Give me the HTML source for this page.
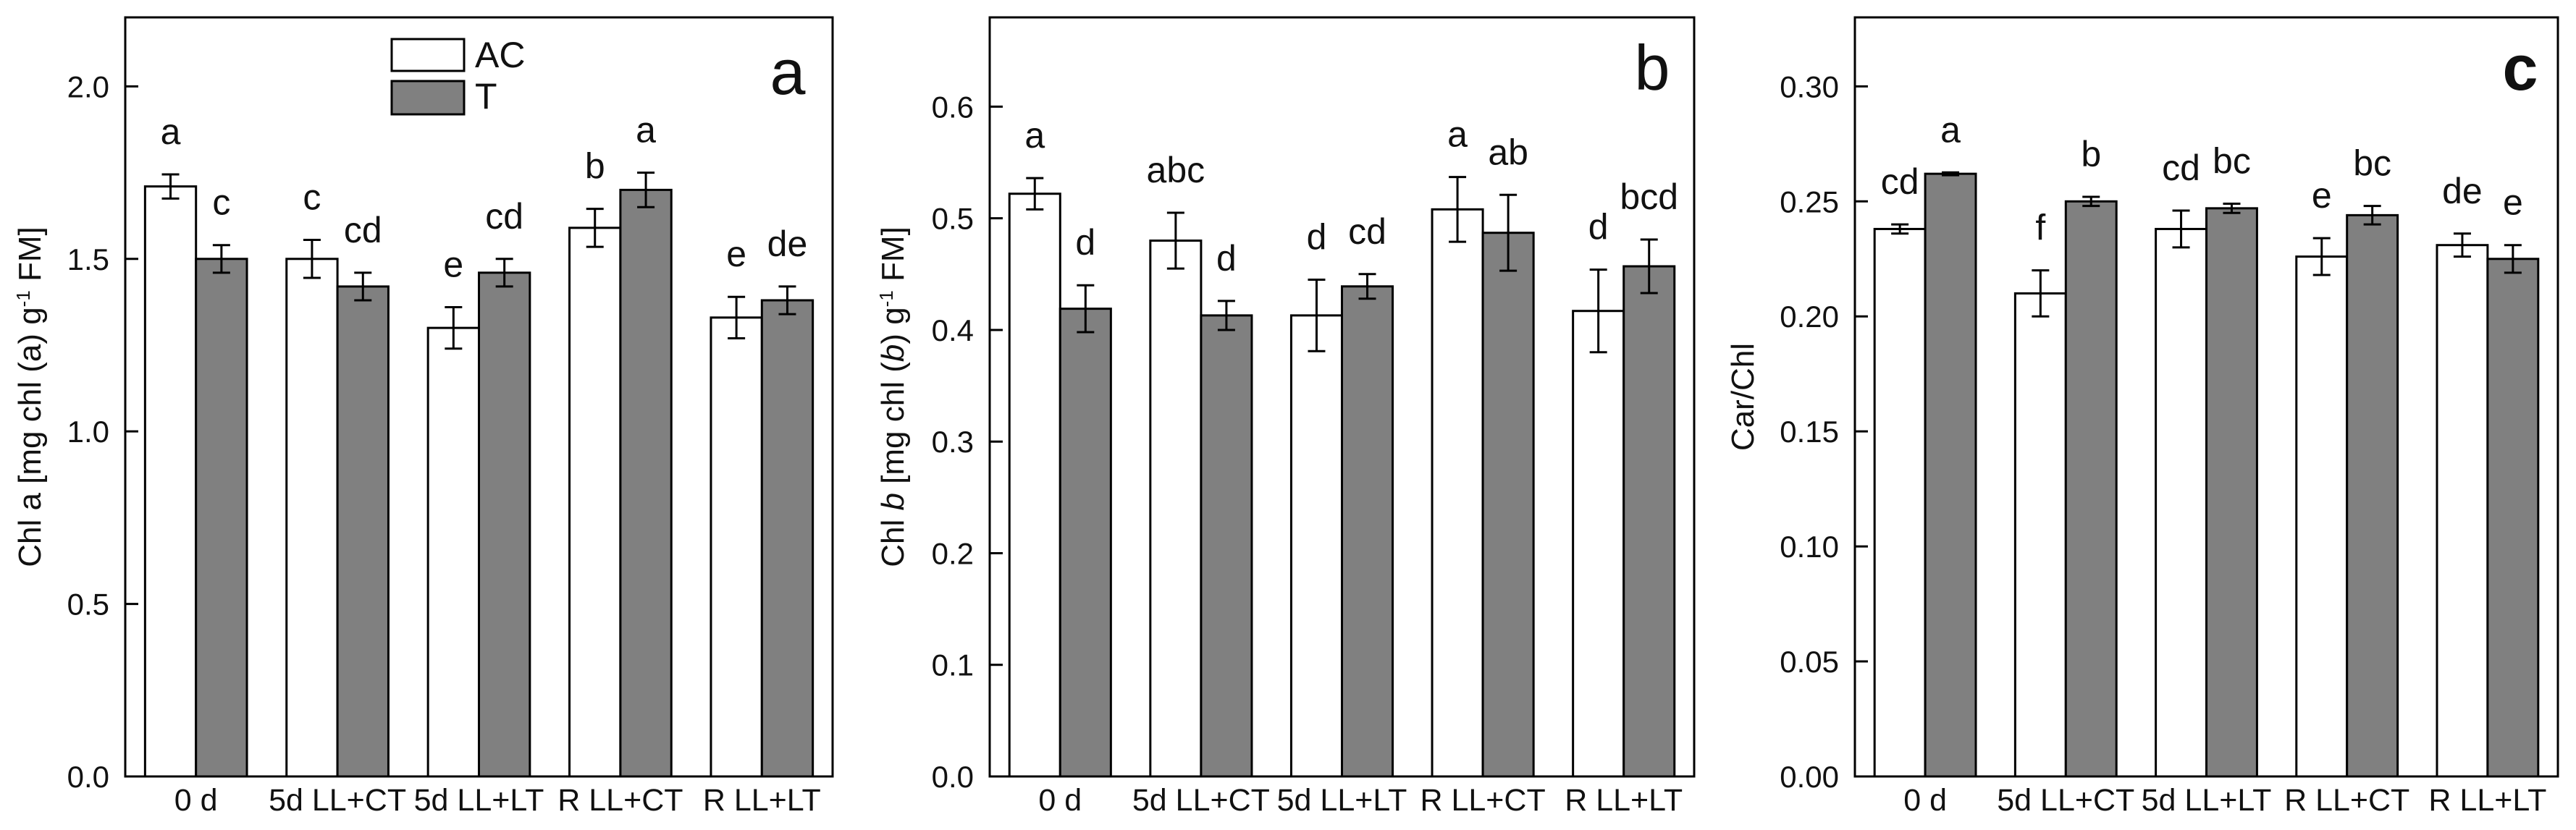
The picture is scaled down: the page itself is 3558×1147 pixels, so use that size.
<!DOCTYPE html>
<html><head><meta charset="utf-8">
<style>
html,body{margin:0;padding:0;background:#fff;}
svg{display:block;}
text{font-family:"Liberation Sans",Arial,sans-serif;fill:#111;}
</style></head>
<body>
<svg id="chart" width="3558" height="1147" viewBox="0 0 3558 1147" xmlns="http://www.w3.org/2000/svg"></svg>
<script>
const categories = ["0 d","5d LL+CT","5d LL+LT","R LL+CT","R LL+LT"];
const acA = [1.71,1.50,1.30,1.59,1.33];
const tA  = [1.50,1.42,1.46,1.70,1.38];
const acAErr = [0.035,0.055,0.06,0.055,0.06];
const tAErr  = [0.04,0.04,0.04,0.05,0.04];
const acALetters = ["a","c","e","b","e"];
const tALetters  = ["c","cd","cd","a","de"];
const ticksA = ["0.0","0.5","1.0","1.5","2.0"];

const acB = [0.522,0.480,0.413,0.508,0.417];
const tB  = [0.419,0.413,0.439,0.487,0.457];
const acBErr = [0.014,0.025,0.032,0.029,0.037];
const tBErr  = [0.021,0.013,0.011,0.034,0.024];
const acBLetters = ["a","abc","d","a","d"];
const tBLetters  = ["d","d","cd","ab","bcd"];
const ticksB = ["0.0","0.1","0.2","0.3","0.4","0.5","0.6"];

const acC = [0.238,0.210,0.238,0.226,0.231];
const tC  = [0.262,0.250,0.247,0.244,0.225];
const acCErr = [0.002,0.010,0.008,0.008,0.005];
const tCErr  = [0.0006,0.002,0.002,0.004,0.006];
const acCLetters = ["cd","f","cd","e","de"];
const tCLetters  = ["a","b","bc","bc","e"];
const ticksC = ["0.00","0.05","0.10","0.15","0.20","0.25","0.30"];

const NS = "http://www.w3.org/2000/svg";
const svg = document.getElementById("chart");
function mk(tag, attrs, parent, txt){
  const e = document.createElementNS(NS, tag);
  for (const k in attrs) e.setAttribute(k, attrs[k]);
  if (txt !== undefined) e.textContent = txt;
  (parent||svg).appendChild(e);
  return e;
}

function panel(cfg){
  const g = mk("g", {});
  
  
  const L=cfg.left, R=cfg.right, T=24, B=1073;
  const y = v => B - v/cfg.max*(B-T);
  const band = (R-L)/categories.length;
  const bw = band*0.36;
  const frame = mk("rect",{x:L,y:T,width:R-L,height:B-T,fill:"none",stroke:"#000","stroke-width":3},g);
  
  
  cfg.ticks.forEach(t=>{
    const v=parseFloat(t), yy=y(v);
    const tl = mk("line",{x1:L,x2:L+18,y1:yy,y2:yy,stroke:"#000","stroke-width":3},g);
    
    
    const tx = mk("text",{x:L-22,y:yy+15,"font-size":42,"text-anchor":"end"},g,t);
    
    
  });
  categories.forEach((c,i)=>{
    const cx = L + band*(i+0.5);
    const xl = mk("text",{x:cx,y:1120,"font-size":43,"text-anchor":"middle"},g,c);
    
    
    [[cfg.ac,cfg.acErr,cfg.acL,"#fff",cx-bw,"ac"],[cfg.t,cfg.tErr,cfg.tL,"#808080",cx,"t"]].forEach(s=>{
      const v=s[0][i], e=s[1][i], x0=s[4];
      const bar = mk("rect",{x:x0,y:y(v),width:bw,height:B-y(v),fill:s[3],stroke:"#000","stroke-width":3},g);
      
      
      const mx = x0+bw/2, yt=y(v+e), yb=y(v-e);
      const eb = mk("path",{d:`M${mx},${yt}V${yb}M${mx-12},${yt}H${mx+12}M${mx-12},${yb}H${mx+12}`,stroke:"#000","stroke-width":3,fill:"none"},g);
      
      
      const lt = mk("text",{x:mx,y:yt-42,"font-size":50,"text-anchor":"middle"},g,s[2][i]);
      
      
    });
  });
  const yt = mk("g",{transform:`translate(${cfg.titleX},${(T+B)/2}) rotate(-90)`},g);
  const ttl = mk("text",{x:0,y:0,"font-size":44,"text-anchor":"middle"},yt);
  
  
  cfg.title.forEach(p=>{
    const ts = mk("tspan",p[1]||{},ttl,p[0]);
  });
  const pl = mk("text",{x:cfg.letterX,y:cfg.letterY,"font-size":88,"text-anchor":"middle","font-weight":cfg.bold?"bold":"normal"},g,cfg.letter);
  
  
}

panel({name:"panel-a",left:173,right:1150,max:2.2,ticks:ticksA,ac:acA,t:tA,acErr:acAErr,tErr:tAErr,acL:acALetters,tL:tALetters,
  titleX:56,title:[["Chl a [mg chl (a) g"],["-1",{"baseline-shift":"super","font-size":26}],[" FM]"]],letter:"a",letterX:1088,letterY:130});
panel({name:"panel-b",left:1367,right:2340,max:0.68,ticks:ticksB,ac:acB,t:tB,acErr:acBErr,tErr:tBErr,acL:acBLetters,tL:tBLetters,
  titleX:1248,title:[["Chl "],["b",{"font-style":"italic"}],[" [mg chl ("],["b",{"font-style":"italic"}],[") g"],["-1",{"baseline-shift":"super","font-size":26}],[" FM]"]],letter:"b",letterX:2282,letterY:124});
panel({name:"panel-c",left:2562,right:3533,max:0.33,ticks:ticksC,ac:acC,t:tC,acErr:acCErr,tErr:tCErr,acL:acCLetters,tL:tCLetters,
  titleX:2422,title:[["Car/Chl"]],letter:"c",letterX:3481,letterY:124,bold:true});

// legend
const lg = mk("g",{});


const l1 = mk("rect",{x:541,y:54,width:100,height:44,fill:"#fff",stroke:"#000","stroke-width":3},lg);


const l2 = mk("rect",{x:541,y:112,width:100,height:46,fill:"#808080",stroke:"#000","stroke-width":3},lg);


const l3 = mk("text",{x:656,y:93,"font-size":50},lg,"AC");


const l4 = mk("text",{x:656,y:150,"font-size":50},lg,"T");


</script>
</body></html>
